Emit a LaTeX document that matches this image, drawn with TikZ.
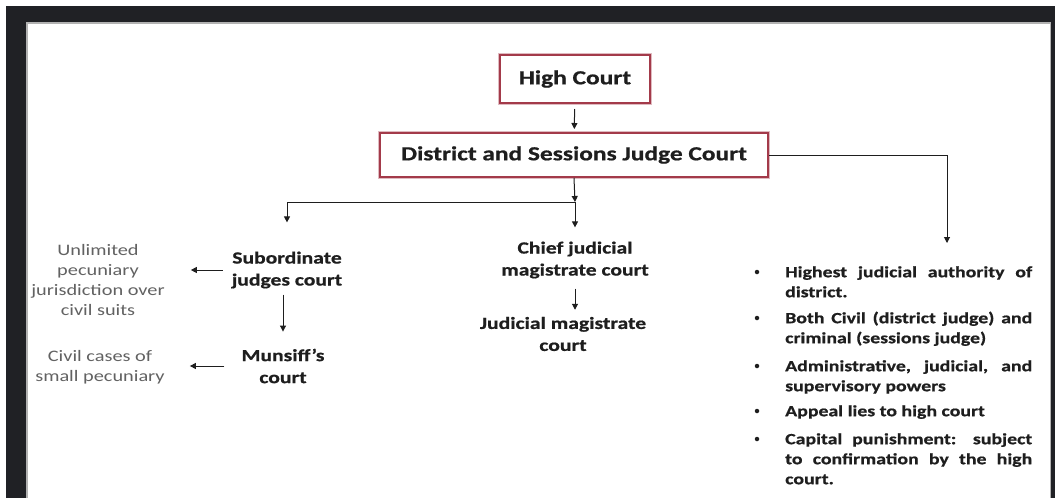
\documentclass[tikz,border=0pt]{standalone}
\usepackage{fontspec}
\setmainfont{Carlito}[FakeStretch=1.27, BoldFeatures={FakeBold=0.7}]
\usetikzlibrary{arrows.meta,calc}
\definecolor{frame}{HTML}{202125}
\definecolor{boxred}{HTML}{A33A4A}
\definecolor{ink}{HTML}{1E1E1E}
\definecolor{graytxt}{HTML}{626262}
\begin{document}
\begin{tikzpicture}[x=1pt,y=-1pt,
  box/.style={draw=boxred, line width=2pt, fill=white, preaction={draw=boxred!35, line width=3.5pt},
    font=\fontsize{20}{23}\selectfont\bfseries, text=ink, inner sep=0pt},
  lbl/.style={font=\fontsize{17}{22}\selectfont\bfseries, text=ink, align=center, inner sep=0pt},
  note/.style={font=\fontsize{16}{20}\selectfont, text=graytxt, align=center, inner sep=0pt},
  item/.style={font=\fontsize{15.6}{20}\selectfont\bfseries, text=ink, text width=247pt, align=justify, anchor=north west, inner sep=0pt},
  dot/.style={circle, fill=ink, inner sep=0pt, minimum size=4.5pt},
  arr/.style={-{Triangle[width=6pt,length=6pt]}, line width=1pt, draw=ink}]
\useasboundingbox (0,0) rectangle (1055,498);
\fill[white] (0,0) rectangle (1055,498);
\fill[frame] (6,6) rectangle (1055,498);
\fill[gray!60] (26,22) rectangle (1051,498);
\fill[white] (28,24) rectangle (1050,498);

\node[box, minimum width=150pt, minimum height=48pt] (hc) at (575,79) {High Court};
\node[box, minimum width=388pt, minimum height=44pt] (dsjc) at (574,155) {District and Sessions Judge Court};

\coordinate (junction) at (575,202);
\coordinate (rt) at (947,243);

\node[lbl] (sub) at (287,270) {Subordinate\\judges court};
\node[lbl] (mun) at (283,366) {Munsiff’s\\court};
\node[lbl] (chief) at (575,260) {Chief judicial\\magistrate court};
\node[lbl] (jm) at (563,334) {Judicial magistrate\\court};

\node[note] (unl) at (98,280) {Unlimited\\pecuniary\\jurisdiction over\\civil suits};
\node[note] (civ) at (100,367) {Civil cases of\\small pecuniary};

\node[item] (i1) at (785,263) {\strut Highest judicial authority of\linebreak district.};
\node[item] (i2) at (785,309) {\strut Both Civil (district judge) and\linebreak criminal (sessions judge)};
\node[item] (i3) at (785,357) {\strut Administrative, judicial, and\linebreak supervisory powers};
\node[item] (i4) at (785,402) {\strut Appeal lies to high court};
\node[item] (i5) at (785,430) {\strut Capital punishment: subject\linebreak to confirmation by the high\linebreak court.};

\node[dot] (b1) at (757,272) {};
\node[dot] (b2) at (757,318) {};
\node[dot] (b3) at (757,366) {};
\node[dot] (b4) at (757,411) {};
\node[dot] (b5) at (757,439) {};

\draw[arr, shorten <=5pt, shorten >=3pt] (hc) -- (dsjc);
\draw[arr] (dsjc.south) -- (junction);
\draw[arr, shorten >=29pt] (junction) -| (sub.north);
\draw[arr, shorten >=14pt] (junction) -- (chief.north);
\draw[arr] (dsjc.east) -| (rt);
\draw[arr, shorten <=9pt, shorten >=26pt] (sub.west) -- (sub.west -| unl.east);
\draw[arr, shorten <=17pt, shorten >=25pt] (mun.west) -- (mun.west -| civ.east);
\draw[arr, shorten <=6pt, shorten >=17pt] (sub.south -| mun.north) -- (mun.north);
\draw[arr, shorten <=10pt, shorten >=7pt] (chief.south) -- (chief.south |- jm.north);
\end{tikzpicture}
\end{document}
